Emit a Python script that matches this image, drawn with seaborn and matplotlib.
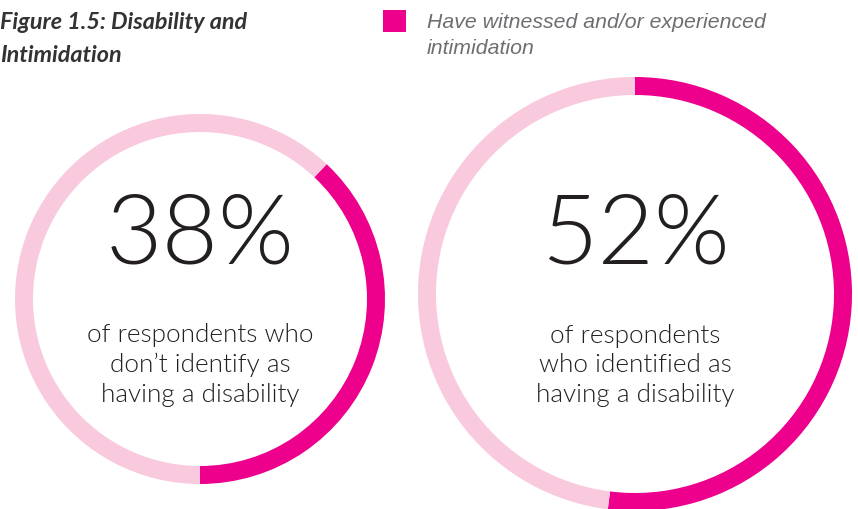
import matplotlib
matplotlib.use("Agg")
import matplotlib.pyplot as plt
import seaborn as sns

# Share of respondents who have witnessed and/or experienced intimidation
groups = ["No disability", "Disability"]
shares = [38, 52]
captions = [
    "of respondents who\ndon\u2019t identify as\nhaving a disability",
    "of respondents\nwho identified as\nhaving a disability",
]
title_lines = ["Figure 1.5: Disability and", "Intimidation"]
legend_lines = ["Have witnessed and/or experienced", "intimidation"]

sns.set_theme(style="white")
dark, light = sns.color_palette(["#EC008C", "#F9C9DD"])

W, H = 858, 510
fig = plt.figure(figsize=(W / 100, H / 100), dpi=100)
ax = fig.add_axes([0, 0, 1, 1])

# ring geometry in pixel units (y measured from the top)
centers = [(200, 300), (635, 295)]
radii = [185, 217]
start_angles = [90 - (180 - 0.38 * 360), 90]
ring_w = 18

for share, (cx, cy), r, sa in zip(shares, centers, radii, start_angles):
    ax.pie([share, 100 - share], colors=[dark, light], startangle=sa,
           counterclock=False, radius=r, center=(cx, H - cy),
           wedgeprops=dict(width=ring_w, linewidth=0))

for share, cap, (cx, cy) in zip(shares, captions, centers):
    ax.text(cx, H - 263, f"{share}%", ha="center", va="baseline",
            fontsize=70, family="Lato", fontweight=300, color="#231F20")
    # multi-line baseline alignment anchors the last line
    ax.text(cx, H - 402, cap, ha="center", va="baseline", fontsize=18.8,
            family="Lato", fontweight=300, color="#231F20",
            linespacing=1.3, multialignment="center")

for line, base in zip(title_lines, [29, 62]):
    ax.text(0, H - base, line, ha="left", va="baseline", fontsize=16.8,
            family="Lato", fontweight="bold", style="italic",
            color="#333333")

ax.add_patch(plt.Rectangle((383, H - 33), 23, 22, color=dark, lw=0))
for line, base in zip(legend_lines, [28, 54]):
    ax.text(427, H - base, line, ha="left", va="baseline", fontsize=15.3,
            family="Liberation Sans", style="italic", color="#6D6E71")

ax.set_xlim(0, W)
ax.set_ylim(0, H)
ax.set_aspect("equal")
ax.axis("off")

fig.savefig("out.png", dpi=100, facecolor="white")
